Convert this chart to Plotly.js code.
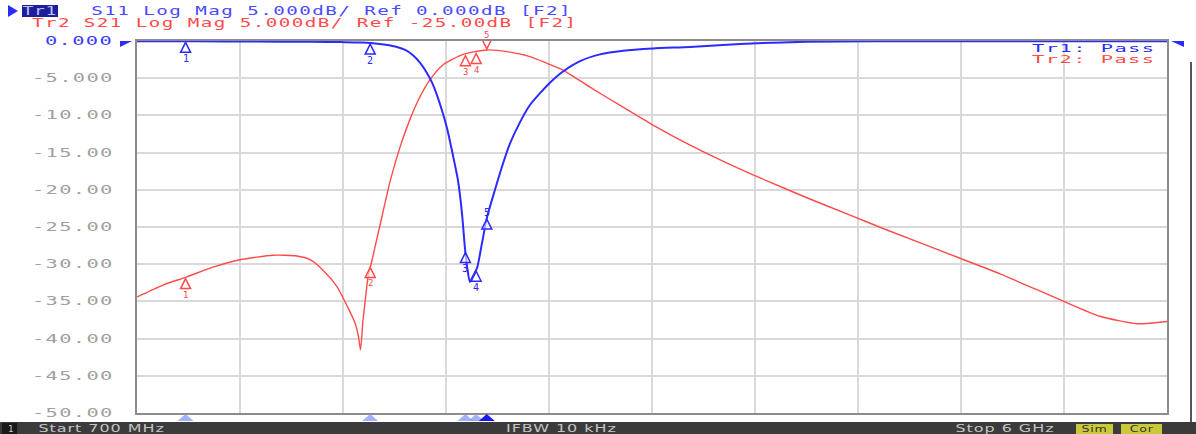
<!DOCTYPE html>
<html><head><meta charset="utf-8">
<script src="https://cdn.plot.ly/plotly-3.0.1.min.js"></script>
<style>
html,body{margin:0;padding:0;background:#ffffff;overflow:hidden;}
#chart{width:1196px;height:434px;}
</style></head><body><div id="chart"></div>
<script>
// ---- data (frequency in MHz, level in dB) ----
const freqS11 = [700, 1000, 1300, 1600, 1750, 1850, 1914, 1980, 2038, 2080, 2120, 2156, 2192, 2220, 2244, 2269, 2295, 2326, 2352, 2372, 2388, 2400, 2413, 2429, 2450, 2475, 2501, 2542, 2583, 2619, 2671, 2722, 2774, 2825, 2892, 2980, 3082, 3201, 3355, 3546, 3715, 3890, 4148, 4500, 5000, 5500, 6000];
const s11 = [-0.05, -0.05, -0.08, -0.1, -0.15, -0.2, -0.3, -0.5, -0.8, -1.2, -1.9, -2.9, -4.3, -5.7, -7.3, -9.3, -11.7, -15.4, -18.8, -23.1, -28.0, -30.6, -32.4, -31.6, -30.5, -27.2, -23.7, -20.0, -16.5, -13.8, -10.9, -8.6, -7.0, -5.6, -4.1, -2.7, -1.8, -1.3, -1.0, -0.8, -0.54, -0.3, -0.1, -0.05, -0.03, -0.02, -0.02];
const freqS21 = [700, 834, 957, 1091, 1230, 1400, 1523, 1590, 1657, 1729, 1781, 1822, 1840, 1850, 1863, 1873, 1889, 1909, 1950, 2002, 2053, 2105, 2156, 2208, 2275, 2378, 2501, 2619, 2722, 2810, 2892, 3031, 3201, 3355, 3546, 3736, 3942, 4150, 4369, 4539, 4935, 5141, 5460, 5655, 5846, 6000];
const s21 = [-34.4, -32.8, -31.7, -30.4, -29.4, -28.8, -28.9, -29.4, -30.8, -33.0, -35.6, -37.9, -39.8, -41.5, -37.5, -35.2, -31.7, -29.5, -24.8, -18.9, -14.3, -10.5, -7.5, -5.2, -3.2, -1.8, -1.2, -1.5, -2.1, -3.0, -3.9, -6.2, -8.9, -11.3, -14.0, -16.4, -18.8, -21.1, -23.4, -25.2, -29.2, -31.3, -34.9, -37.0, -38.0, -37.7];
const markerFreqs = [950, 1900, 2390, 2445, 2500];
const markerLabels = ['1', '2', '3', '4', '5'];
const s11Markers = [-0.05, -0.28, -28.3, -30.8, -23.8];
const s21Markers = [-31.8, -30.3, -1.85, -1.55, -1.2];
const yTickVals = [0, -5, -10, -15, -20, -25, -30, -35, -40, -45, -50];
const yTickText = ['0.000', '-5.000', '-10.00', '-15.00', '-20.00', '-25.00', '-30.00', '-35.00', '-40.00', '-45.00', '-50.00'];
const header1 = 'S11 Log Mag 5.000dB/ Ref 0.000dB [F2]';
const header2 = 'Tr2 S21 Log Mag 5.000dB/ Ref -25.00dB [F2]';
const passTexts = ['Tr1: Pass', 'Tr2: Pass'];
const statusTexts = ['Start 700 MHz', 'IFBW 10 kHz', 'Stop 6 GHz'];

// ---- geometry / styles ----
const L = 137, R = 1167, T = 41, B = 413;
const px = x => (x - L) / (R - L);
const py = y => (B - y) / (B - T);
const BLUE = '#2b2bff', RED = '#ff4a4a', MONO = 'DejaVu Sans Mono, monospace', SANS = 'DejaVu Sans, sans-serif';

const shapes = [], annotations = [], textStyle = [];
function ann(text, xc, yc, size, color, st, extra, family) {
  annotations.push(Object.assign({text: text, xref: 'paper', yref: 'paper', x: px(xc), y: py(yc),
    xanchor: 'center', yanchor: 'middle', showarrow: false,
    font: {family: family || MONO, size: size, color: color}}, extra || {}));
  textStyle.push(st);
}
function rect(x0, y0, x1, y1, fill) {
  shapes.push({type: 'rect', xref: 'paper', yref: 'paper', x0: px(x0), x1: px(x1), y0: py(y1), y1: py(y0),
    fillcolor: fill, line: {width: 0}, layer: 'above'});
}
const HDR = {scale: 1.6, ls: 0.9};

// header
shapes.push({type: 'path', xref: 'paper', yref: 'paper', xsizemode: 'pixel', ysizemode: 'pixel',
  xanchor: px(8), yanchor: py(11), path: 'M0,6 L10,0 L0,-6 Z', fillcolor: BLUE, line: {width: 0}});
rect(22, 5, 58, 17, '#1e1e9a');
ann('Tr1', 40, 11, 12, '#b8c0ff', {scale: 1.5, ls: 0.5});
ann(header1, 331, 11, 12, '#4a4aff', HDR);
ann(header2, 304, 23.5, 12, RED, HDR);
// pass texts
ann(passTexts[0], 1094, 48.5, 11, BLUE, {scale: 1.85, ls: 0.8});
ann(passTexts[1], 1094, 59.5, 11, RED, {scale: 1.85, ls: 0.8});

// y tick labels (instrument style, right aligned next to the grid)
yTickVals.forEach((v, i) => {
  annotations.push({text: yTickText[i], xref: 'paper', yref: 'y', x: px(113), y: v, xanchor: 'right', yanchor: 'middle',
    showarrow: false, font: {family: MONO, size: 12, color: i === 0 ? '#3a3aff' : '#a0a0a0'}});
  textStyle.push({scale: 1.7, ls: 0.8, origin: 'right center'});
});

// status bar
rect(0, 422, 1196, 434, '#3b3b3b');
rect(2, 423, 17, 434, '#1a1a1a');
ann('1', 10, 428.5, 9, '#d0d0d0', null);
ann(statusTexts[0], 101, 428.5, 10, '#c4c4c4', {scale: 1.6, ls: 0.6}, null, SANS);
ann(statusTexts[1], 561, 428.5, 10, '#c4c4c4', {scale: 1.6, ls: 0.6}, null, SANS);
ann(statusTexts[2], 1005, 428.5, 10, '#c4c4c4', {scale: 1.6, ls: 0.6}, null, SANS);
rect(1076, 424, 1113, 434, '#c9c93a');
rect(1121, 424, 1162, 434, '#c9c93a');
ann('Sim', 1094.5, 428.5, 9, '#333333', {scale: 1.4, ls: 0.5}, null, SANS);
ann('Cor', 1141.5, 428.5, 9, '#333333', {scale: 1.4, ls: 0.5}, null, SANS);

// right frame line
shapes.push({type: 'line', xref: 'paper', yref: 'paper', x0: px(1191), x1: px(1191), y0: py(422), y1: py(62),
  line: {color: '#555', width: 2}});

// reference level triangles (Tr1, ref 0 dB)
shapes.push({type: 'path', xref: 'paper', yref: 'y', xsizemode: 'pixel', ysizemode: 'pixel', xanchor: 0, yanchor: yTickVals[0],
  path: 'M-17,6 L-5,0 L-17,-6 Z', fillcolor: BLUE, line: {width: 0}});
shapes.push({type: 'path', xref: 'paper', yref: 'y', xsizemode: 'pixel', ysizemode: 'pixel', xanchor: 1, yanchor: yTickVals[0],
  path: 'M4,0 L17,6 L17,-6 Z', fillcolor: BLUE, line: {width: 0}});

// markers
function markerShape(f, v, color, down) {
  const p = down ? 'M0,1 L-5,11 L5,11 Z' : 'M0,-1 L-5,-11 L5,-11 Z';
  shapes.push({type: 'path', xref: 'x', yref: 'y', xsizemode: 'pixel', ysizemode: 'pixel', xanchor: f, yanchor: v,
    path: p, fillcolor: 'rgba(255,255,255,0.6)', line: {color: color, width: 1.5}, layer: 'above'});
}
markerFreqs.forEach((f, i) => {
  markerShape(f, s11Markers[i], BLUE, false);
  const red5 = i === 4;
  markerShape(f, s21Markers[i], RED, red5);
  annotations.push({text: markerLabels[i], x: f, y: s11Markers[i], xref: 'x', yref: 'y', showarrow: false,
    yshift: i === 4 ? 6 : -17, font: {family: MONO, size: 10, color: BLUE}});
  textStyle.push(null);
  annotations.push({text: markerLabels[i], x: f, y: s21Markers[i], xref: 'x', yref: 'y', showarrow: false,
    yshift: red5 ? 15 : -17, font: {family: MONO, size: 9, color: RED}});
  textStyle.push(null);
  // bottom position indicators
  shapes.push({type: 'path', xref: 'x', yref: 'paper', xsizemode: 'pixel', ysizemode: 'pixel', xanchor: f, yanchor: 0,
    path: 'M0,-1 L-8,-8 L8,-8 Z', fillcolor: i === 4 ? '#1a1aee' : 'rgba(140,155,255,0.8)', line: {width: 0}, layer: 'above'});
});

// CSS for the wide instrument-style lettering
let css = '';
textStyle.forEach((s, i) => {
  if (!s) return;
  css += '.annotation[data-index="' + i + '"] .annotation-text{letter-spacing:' + s.ls + 'px;transform-box:fill-box;transform-origin:' +
    (s.origin || 'center') + ';transform:scaleX(' + s.scale + ');}';
});
const st = document.createElement('style'); st.textContent = css; document.head.appendChild(st);

const traces = [
  {x: freqS21, y: s21, mode: 'lines', line: {color: RED, width: 1.4, shape: 'spline', smoothing: 0.6}, hoverinfo: 'skip'},
  {x: freqS11, y: s11, mode: 'lines', line: {color: BLUE, width: 2, shape: 'spline', smoothing: 0.6}, hoverinfo: 'skip'}
];

const layout = {
  width: 1196, height: 434,
  margin: {l: L, r: 1196 - R, t: T, b: 434 - B, pad: 0},
  paper_bgcolor: '#ffffff', plot_bgcolor: '#ffffff',
  showlegend: false,
  font: {family: MONO},
  xaxis: {range: [700, 6000], tick0: 700, dtick: 530, showticklabels: false, ticks: '',
    showgrid: true, gridcolor: '#d9d9d9', gridwidth: 2, zeroline: false,
    showline: true, mirror: true, linecolor: '#8c8c8c', linewidth: 2},
  yaxis: {range: [-50, 0], tickvals: yTickVals, showticklabels: false, ticks: '',
    showgrid: true, gridcolor: '#d9d9d9', gridwidth: 2, zeroline: false,
    showline: true, mirror: true, linecolor: '#8c8c8c', linewidth: 2},
  shapes: shapes,
  annotations: annotations
};

Plotly.newPlot('chart', traces, layout, {staticPlot: true, displayModeBar: false});
</script></body></html>
